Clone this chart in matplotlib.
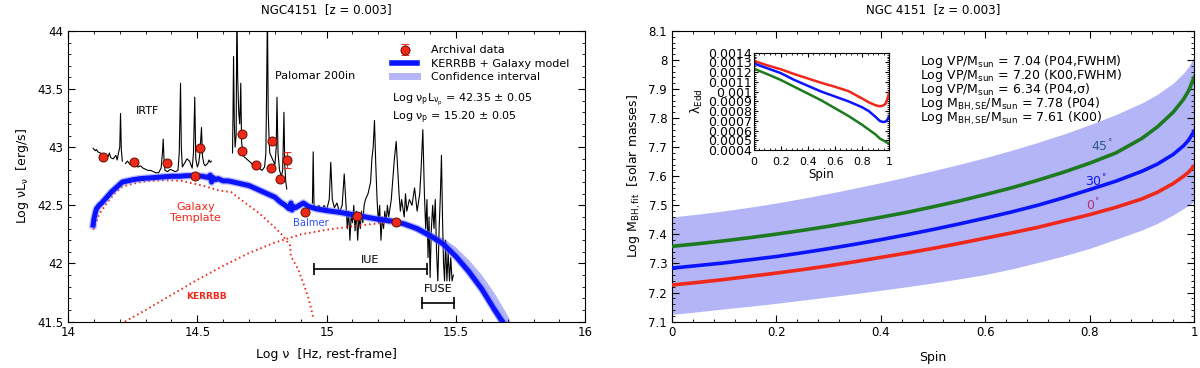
import numpy as np
import matplotlib.pyplot as plt
from matplotlib.lines import Line2D

plt.rcParams['font.family'] = ['DejaVu Sans']
plt.rcParams['mathtext.fontset'] = 'dejavusans'
plt.rcParams['mathtext.default'] = 'regular'

# ---------------- left panel data (log nu, log nuLnu) ----------------
nu_arch = [14.135, 14.255, 14.382, 14.49, 14.512, 14.674, 14.674, 14.725, 14.789,
           14.784, 14.821, 14.917, 15.116, 15.269]
L_arch = [42.92, 42.87, 42.86, 42.756, 42.99, 43.11, 42.97, 42.85, 43.05,
          42.82, 42.73, 42.44, 42.41, 42.36]
nu_err, L_err, err = 14.846, 42.89, 0.07

nu_irtf = [14.097, 14.105, 14.11, 14.115, 14.125, 14.135, 14.145, 14.155, 14.16, 14.165,
           14.175, 14.185, 14.19, 14.195, 14.2, 14.203, 14.206, 14.21, np.nan,
           14.222, 14.23, 14.24, 14.25, 14.26, 14.27, 14.28, 14.29, 14.30, 14.31, 14.32,
           14.33, 14.34, 14.35, 14.36, 14.365, 14.368, 14.371, 14.375, 14.385, 14.395,
           14.405, 14.415, 14.425, 14.43, 14.435, 14.438, 14.442, 14.45, 14.46, 14.47,
           14.48, 14.485, 14.49, 14.494, 14.5, 14.505, 14.51, 14.516, 14.52, 14.525,
           14.53, 14.54, 14.545, 14.55, 14.554]
L_irtf = [42.99, 42.97, 42.98, 42.96, 42.95, 42.94, 42.93, 42.92, 42.95, 42.91,
          42.90, 42.93, 42.89, 42.95, 43.0, 43.29, 42.98, 42.88, np.nan,
          42.86, 42.88, 42.85, 42.86, 42.84, 42.83, 42.84, 42.82, 42.81, 42.80, 42.80,
          42.79, 42.78, 42.78, 42.82, 42.95, 43.07, 42.90, 42.80, 42.79, 42.81,
          42.80, 42.79, 42.80, 42.95, 43.55, 43.0, 42.83, 42.86, 42.90, 42.88,
          42.82, 42.95, 43.43, 42.90, 42.83, 42.86, 42.95, 43.17, 42.92, 42.86,
          42.84, 42.86, 42.89, 42.87, 42.88]

nu_pal = [14.636, 14.638, 14.64, 14.643, 14.646, 14.65, 14.653, 14.656, 14.66, 14.664,
          14.668, 14.671, 14.675, 14.68, 14.69, 14.70, 14.71, 14.72, 14.73, 14.74,
          14.75, 14.76, 14.765, 14.768, 14.771, 14.774, 14.777, 14.78, 14.79, 14.80,
          14.805, 14.808, 14.812, 14.818, 14.825, 14.83, 14.835, 14.838, 14.842, 14.846]
L_pal = [42.95, 43.3, 43.78, 43.2, 43.0, 43.1, 44.2, 43.6, 43.3, 43.2,
         43.55, 43.05, 42.97, 42.92, 42.90, 42.88, 42.86, 42.84, 42.85, 42.82,
         42.80, 42.83, 42.95, 43.5, 44.2, 43.3, 43.1, 42.95, 42.90, 42.85,
         43.0, 43.43, 42.95, 42.80, 42.75, 42.80, 43.3, 42.85, 42.70, 42.64]

nu_uv = [14.945, 14.948, 14.951, 14.96, 14.97, 14.98, 14.99, 15.0, 15.01, 15.016,
         15.022, 15.03, 15.04, 15.05, 15.06, 15.068, 15.075, 15.08, 15.085, 15.09,
         15.095, 15.1, 15.105, 15.11, 15.115, 15.12, 15.125, 15.13, 15.135, 15.14,
         15.145, 15.15, 15.16, 15.17, 15.175, 15.18, 15.185, 15.19, 15.195, 15.2,
         15.205, 15.21, 15.215, 15.22, 15.225, 15.23, 15.235, 15.24, 15.25, 15.255,
         15.262, 15.269, 15.275, 15.28, 15.285, 15.29, 15.3, 15.305, 15.31, 15.32,
         15.33, 15.34, 15.35, 15.36, 15.365, 15.372, 15.378, 15.383, 15.388, 15.392,
         15.396, 15.4, 15.405, 15.41, 15.415, 15.42, 15.425, 15.43, 15.435, 15.44,
         15.444, 15.448, 15.452, 15.456, 15.46, 15.465, 15.47, 15.475, 15.48, 15.485, 15.49]
L_uv = [42.52, 42.96, 42.50, 42.47, 42.50, 42.45, 42.50, 42.46, 42.55, 42.87,
        42.55, 42.48, 42.52, 42.44, 42.50, 42.77, 42.50, 42.30, 42.45, 42.20,
        42.42, 42.35, 42.50, 42.28, 42.45, 42.20, 42.40, 42.30, 42.45, 42.35,
        42.50, 42.55, 42.60, 42.70, 42.90, 43.0, 43.23, 42.85, 42.55, 42.35,
        42.50, 42.20, 42.40, 42.30, 42.45, 42.35, 42.50, 42.40, 42.55, 42.70,
        42.90, 43.05, 42.80, 42.60, 42.45, 42.55, 42.40, 42.60, 42.45, 42.55,
        42.50, 42.65, 42.45, 42.60, 42.80, 43.15, 42.60, 42.30, 42.55, 42.05,
        42.40, 41.88, 42.30, 42.50, 42.30, 42.55, 42.10, 41.85, 42.30, 42.60,
        42.93, 42.40, 42.00, 41.85, 42.20, 41.85, 42.10, 41.85, 42.05, 41.85, 41.90]

nu_mod = [14.097, 14.10, 14.105, 14.11, 14.12, 14.13, 14.15, 14.17, 14.19, 14.21,
          14.23, 14.25, 14.28, 14.31, 14.34, 14.37, 14.40, 14.43, 14.46, 14.49,
          14.52, 14.54, 14.55, 14.555, 14.56, 14.57, 14.58, 14.60, 14.62, 14.64,
          14.66, 14.68, 14.70, 14.72, 14.74, 14.76, 14.78, 14.80, 14.82, 14.84,
          14.855, 14.862, 14.866, 14.872, 14.88, 14.895, 14.91, 14.93, 14.96, 15.0,
          15.05, 15.1, 15.15, 15.2, 15.25, 15.3, 15.35, 15.4, 15.45, 15.5,
          15.55, 15.6, 15.65, 15.68]
L_mod = [42.33, 42.38, 42.43, 42.47, 42.50, 42.52, 42.57, 42.62, 42.66, 42.70,
         42.71, 42.72, 42.73, 42.735, 42.74, 42.745, 42.75, 42.75, 42.755, 42.755,
         42.75, 42.74, 42.76, 42.70, 42.74, 42.72, 42.73, 42.71, 42.71, 42.70,
         42.69, 42.68, 42.67, 42.65, 42.63, 42.61, 42.59, 42.57, 42.53, 42.50,
         42.47, 42.52, 42.46, 42.49, 42.48, 42.50, 42.52, 42.49, 42.47, 42.455,
         42.44, 42.42, 42.40, 42.38, 42.365, 42.34, 42.30, 42.24, 42.17, 42.06,
         41.93, 41.78, 41.60, 41.50]

nu_band = [15.3, 15.4, 15.45, 15.5, 15.55, 15.6, 15.65, 15.7, 15.72]
band_lo = [42.33, 42.21, 42.14, 42.03, 41.89, 41.74, 41.55, 41.35, 41.3]
band_hi = [42.36, 42.27, 42.22, 42.14, 42.03, 41.90, 41.74, 41.55, 41.45]

nu_gal = [14.097, 14.12, 14.15, 14.18, 14.21, 14.24, 14.28, 14.32, 14.36, 14.40,
          14.44, 14.48, 14.52, 14.55, 14.58, 14.61, 14.63, 14.65, 14.68, 14.71,
          14.74, 14.77, 14.80, 14.83, 14.85, 14.858, 14.862, 14.87, 14.89, 14.91,
          14.93, 14.95]
L_gal = [42.29, 42.42, 42.52, 42.60, 42.66, 42.68, 42.70, 42.71, 42.715, 42.715,
         42.71, 42.69, 42.67, 42.65, 42.63, 42.62, 42.615, 42.58, 42.53, 42.48,
         42.43, 42.37, 42.31, 42.24, 42.18, 42.16, 42.06, 42.03, 41.95, 41.83,
         41.70, 41.52]

nu_kbb = [14.22, 14.3, 14.4, 14.5, 14.6, 14.7, 14.8, 14.9, 15.0, 15.1,
          15.2, 15.27, 15.35, 15.4, 15.45, 15.5, 15.55, 15.6, 15.65, 15.68]
L_kbb = [41.5, 41.6, 41.73, 41.86, 41.98, 42.09, 42.18, 42.25, 42.29, 42.32,
         42.345, 42.35, 42.30, 42.24, 42.17, 42.06, 41.93, 41.78, 41.60, 41.50]

iue_range = [14.95, 15.39]
fuse_range = [15.368, 15.493]

# ---------------- right panel data ----------------
spin = [0, 0.05, 0.1, 0.15, 0.2, 0.25, 0.3, 0.35, 0.4, 0.45, 0.5, 0.55, 0.6,
        0.65, 0.7, 0.75, 0.8, 0.85, 0.9, 0.93, 0.96, 0.98, 0.99, 1.0]
m_0 = [7.226, 7.235, 7.245, 7.256, 7.267, 7.279, 7.292, 7.306, 7.321, 7.336, 7.352, 7.369,
       7.387, 7.405, 7.424, 7.446, 7.468, 7.493, 7.522, 7.545, 7.575, 7.600, 7.615, 7.635]
m_30 = [7.284, 7.293, 7.302, 7.313, 7.324, 7.337, 7.351, 7.366, 7.382, 7.399, 7.417, 7.436,
        7.456, 7.477, 7.500, 7.526, 7.554, 7.583, 7.617, 7.642, 7.675, 7.705, 7.725, 7.755]
m_45 = [7.359, 7.368, 7.378, 7.389, 7.401, 7.414, 7.428, 7.443, 7.459, 7.476, 7.495, 7.515,
        7.537, 7.560, 7.586, 7.614, 7.645, 7.680, 7.730, 7.770, 7.820, 7.865, 7.895, 7.940]
m_lo = [7.125, 7.134, 7.144, 7.153, 7.163, 7.174, 7.185, 7.196, 7.208, 7.220, 7.233, 7.247,
        7.262, 7.281, 7.303, 7.326, 7.352, 7.383, 7.415, 7.438, 7.467, 7.489, 7.500, 7.512]
m_hi = [7.460, 7.470, 7.481, 7.494, 7.508, 7.524, 7.541, 7.559, 7.578, 7.598, 7.619, 7.641,
        7.664, 7.689, 7.716, 7.745, 7.777, 7.812, 7.852, 7.882, 7.920, 7.955, 7.978, 8.010]

spin_in = [0, 0.1, 0.2, 0.3, 0.4, 0.5, 0.6, 0.7, 0.8, 0.85, 0.9, 0.93, 0.95, 0.97, 0.98, 0.99, 1.0]
edd_0 = [0.001316, 0.00127, 0.00123, 0.00118, 0.001135, 0.00109, 0.00105, 0.001005, 0.00093,
         0.00089, 0.00086, 0.00085, 0.000855, 0.00087, 0.0009, 0.00094, 0.00099]
edd_30 = [0.00129, 0.00124, 0.00119, 0.00112, 0.00106, 0.001, 0.00095, 0.0009, 0.00084,
          0.0008, 0.00074, 0.0007, 0.00069, 0.00069, 0.0007, 0.00072, 0.00075]
edd_45 = [0.001236, 0.00118, 0.00112, 0.00105, 0.00098, 0.00091, 0.00083, 0.00075, 0.00066,
          0.00061, 0.00056, 0.00052, 0.000505, 0.00049, 0.00048, 0.000475, 0.00047]

mass_lines = ['Log VP/M$_{sun}$ = 7.04 (P04,FWHM)',
              'Log VP/M$_{sun}$ = 7.20 (K00,FWHM)',
              'Log VP/M$_{sun}$ = 6.34 (P04,σ)',
              'Log M$_{BH,SE}$/M$_{sun}$ = 7.78 (P04)',
              'Log M$_{BH,SE}$/M$_{sun}$ = 7.61 (K00)']

RED = '#f0281a'
BLUE = '#0a14ff'
GREEN = '#1e7a1e'
BAND = '#b3b5f7'

fig = plt.figure(figsize=(12, 3.68), dpi=100)


def style_ticks(ax, size=8.5):
    ax.tick_params(which='both', direction='in', top=True, right=True, labelsize=size)
    ax.tick_params(which='major', length=5, width=0.8)
    ax.tick_params(which='minor', length=2.5, width=0.6)
    for s in ax.spines.values():
        s.set_linewidth(0.8)


# ================= left =================
ax1 = fig.add_axes([0.0567, 0.126, 0.431, 0.790])
ax1.fill_between(nu_band, band_lo, band_hi, color=BAND, lw=0, zorder=1)
ax1.plot(nu_irtf, L_irtf, color='black', lw=0.8, zorder=2)
ax1.plot(nu_pal, L_pal, color='black', lw=0.8, zorder=2)
ax1.plot(nu_uv, L_uv, color='black', lw=0.8, zorder=2)
ax1.plot(nu_gal, L_gal, color=RED, lw=1.4, ls=(0, (0.8, 1.6)), zorder=3)
ax1.plot(nu_kbb, L_kbb, color=RED, lw=1.4, ls=(0, (0.8, 1.6)), zorder=3)
ax1.plot(nu_mod, L_mod, color='#7a80ff', lw=5.5, alpha=0.5, zorder=4)
ax1.plot(nu_mod, L_mod, color=BLUE, lw=3.6, zorder=4)
ax1.plot(nu_arch, L_arch, 'o', color=RED, mec='#601000', mew=0.7, ms=6.5, zorder=5)
h_err = ax1.errorbar([nu_err], [L_err], yerr=[err], fmt='o', color=RED, mec='#601000',
                     mew=0.7, ms=6.5, ecolor=RED, elinewidth=0.8, capsize=3, zorder=5)

ax1.plot(iue_range, [41.955, 41.955], color='black', lw=1.2)
ax1.plot(iue_range, [41.955, 41.955], '|', color='black', ms=8, mew=1.2)
ax1.plot(fuse_range, [41.66, 41.66], color='black', lw=1.2)
ax1.plot(fuse_range, [41.66, 41.66], '|', color='black', ms=8, mew=1.2)

ax1.text(15.167, 42.03, 'IUE', ha='center', va='center', fontsize=8)
ax1.text(15.43, 41.78, 'FUSE', ha='center', va='center', fontsize=8)
ax1.text(14.308, 43.31, 'IRTF', ha='center', va='center', fontsize=8)
ax1.text(14.80, 43.61, 'Palomar 200in', ha='left', va='center', fontsize=8)
ax1.text(14.493, 42.44, 'Galaxy\nTemplate', ha='center', va='center', fontsize=8,
         color=RED, linespacing=1.15)
ax1.text(14.94, 42.35, 'Balmer', ha='center', va='center', fontsize=7.2, color='#3050ff')
ax1.text(14.534, 41.72, 'KERRBB', ha='center', va='center', fontsize=6.5,
         color=RED, fontweight='bold')

handles = [h_err,
           Line2D([], [], color=BLUE, lw=4),
           Line2D([], [], color=BAND, lw=5)]
ax1.legend(handles, ['Archival data', 'KERRBB + Galaxy model', 'Confidence interval'],
           loc='upper left', bbox_to_anchor=(0.627, 0.95), frameon=False, fontsize=8,
           handlelength=2.25, handletextpad=1.2, labelspacing=0.3, borderpad=0,
           borderaxespad=0)
ax1.text(15.253, 43.405, 'Log ν$_p$L$_{ν_p}$ = 42.35 ± 0.05', fontsize=8, va='center')
ax1.text(15.253, 43.25, 'Log ν$_p$ = 15.20 ± 0.05', fontsize=8, va='center')

ax1.set_xlim(14, 16)
ax1.set_ylim(41.5, 44)
ax1.set_xticks([14, 14.5, 15, 15.5, 16])
ax1.set_xticklabels(['14', '14.5', '15', '15.5', '16'])
ax1.set_yticks([41.5, 42, 42.5, 43, 43.5, 44])
ax1.set_yticklabels(['41.5', '42', '42.5', '43', '43.5', '44'])
ax1.set_xticks(np.arange(14, 16.01, 0.1), minor=True)
ax1.set_yticks(np.arange(41.5, 44.01, 0.1), minor=True)
style_ticks(ax1)
ax1.set_xlabel('Log ν  [Hz, rest-frame]', fontsize=9, labelpad=6)
ax1.set_ylabel('Log νL$_ν$  [erg/s]', fontsize=9)
ax1.set_title('NGC4151  [z = 0.003]', fontsize=8.6, pad=13)

# ================= right =================
ax2 = fig.add_axes([0.56, 0.126, 0.435, 0.790])
ax2.fill_between(spin, m_lo, m_hi, color=BAND, lw=0, zorder=1)
ax2.plot(spin, m_0, color=RED, lw=2.6, zorder=3)
ax2.plot(spin, m_30, color=BLUE, lw=2.6, zorder=3)
ax2.plot(spin, m_45, color=GREEN, lw=2.6, zorder=3)
ax2.text(0.824, 7.703, '45$^{°}$', color='#2a5a80', fontsize=9, ha='center', va='center')
ax2.text(0.812, 7.584, '30$^{°}$', color=BLUE, fontsize=9, ha='center', va='center')
ax2.text(0.806, 7.499, '0$^{°}$', color='#b03070', fontsize=9, ha='center', va='center')
for i, line in enumerate(mass_lines):
    ax2.text(0.476, 0.895 - i * 0.049, line, transform=ax2.transAxes, fontsize=9, va='center')

ax2.set_xlim(0, 1)
ax2.set_ylim(7.1, 8.1)
ax2.set_xticks([0, 0.2, 0.4, 0.6, 0.8, 1])
ax2.set_xticklabels(['0', '0.2', '0.4', '0.6', '0.8', '1'])
ax2.set_yticks(np.arange(7.1, 8.11, 0.1))
ax2.set_yticklabels(['7.1', '7.2', '7.3', '7.4', '7.5', '7.6', '7.7', '7.8', '7.9', '8', '8.1'])
ax2.set_xticks(np.arange(0, 1.001, 0.04), minor=True)
ax2.set_yticks(np.arange(7.1, 8.101, 0.02), minor=True)
style_ticks(ax2)
ax2.set_xlabel('Spin', fontsize=9, labelpad=8)
ax2.set_ylabel('Log M$_{BH,fit}$  [solar masses]', fontsize=9)
ax2.set_title('NGC 4151  [z = 0.003]', fontsize=8.6, pad=13)

# inset
ax3 = fig.add_axes([0.628, 0.592, 0.113, 0.265])
ax3.plot(spin_in, edd_0, color=RED, lw=1.8)
ax3.plot(spin_in, edd_30, color=BLUE, lw=1.8)
ax3.plot(spin_in, edd_45, color=GREEN, lw=1.8)
ax3.set_xlim(0, 1)
ax3.set_ylim(0.0004, 0.0014)
ax3.set_xticks([0, 0.2, 0.4, 0.6, 0.8, 1])
ax3.set_xticklabels(['0', '0.2', '0.4', '0.6', '0.8', '1'])
ax3.set_yticks(np.arange(0.0004, 0.00141, 0.0001))
ax3.set_yticklabels(['0.0004', '0.0005', '0.0006', '0.0007', '0.0008', '0.0009',
                     '0.001', '0.0011', '0.0012', '0.0013', '0.0014'])
ax3.set_xticks(np.arange(0, 1.001, 0.04), minor=True)
ax3.set_yticks(np.arange(0.0004, 0.00141, 0.00002), minor=True)
style_ticks(ax3, size=8)
ax3.tick_params(axis='y', labelsize=9, pad=1)
ax3.tick_params(axis='x', pad=5)
ax3.tick_params(which='major', length=3)
ax3.tick_params(which='minor', length=1.5)
ax3.set_xlabel('Spin', fontsize=8.5, labelpad=1)
ax3.set_ylabel('λ$_{Edd}$', fontsize=9, labelpad=2)

fig.savefig('out.png', dpi=100)
